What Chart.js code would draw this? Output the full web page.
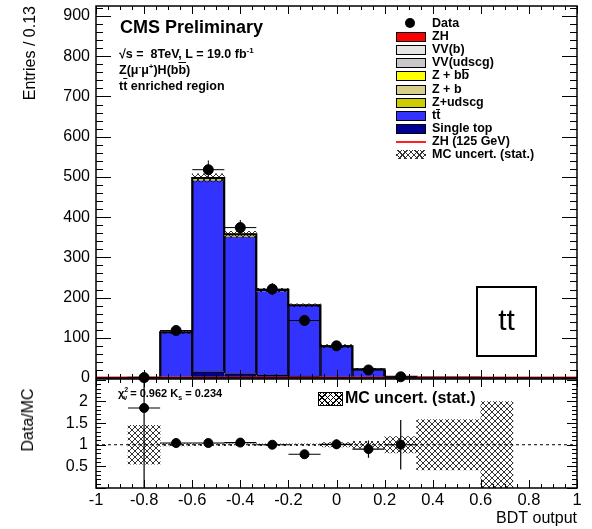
<!DOCTYPE html>
<html lang="en">
<head>
<meta charset="UTF-8">
<title>BDT output - tt enriched region</title>
<script src="https://cdn.jsdelivr.net/npm/chart.js@4.4.0/dist/chart.umd.min.js"></script>
<style>
  * { margin: 0; padding: 0; }
  body {
    width: 592px; height: 529px; position: relative; overflow: hidden;
    background: #fff; color: #000;
    font-family: "Liberation Sans", Arial, sans-serif;
  }
  .box { position: absolute; left: 0; width: 592px; }
  #mainBox { top: 0; height: 384px; }
  #ratioBox { top: 370px; height: 159px; }
  .txt { position: absolute; white-space: nowrap; font-weight: bold; line-height: 1; z-index: 5; }
  .ov { text-decoration: overline; }
  .ovb { display: inline-block; border-top: 1px solid #000; line-height: 10px; }
  #legend { position: absolute; left: 396px; top: 18px; z-index: 5; }
  .row { position: absolute; left: 0; height: 12px; white-space: nowrap; }
  .sw { position: absolute; left: 0; top: 1px; width: 28px; height: 8px; border: 1px solid #000; }
  .lab { position: absolute; left: 36px; top: -1px; font-weight: bold; font-size: 12.5px; line-height: 13px; }
  .hatch {
    background:
      repeating-linear-gradient(45deg, transparent 0 3px, #000 3px 4px),
      repeating-linear-gradient(-45deg, transparent 0 3px, #000 3px 4px);
  }
  #ttBox {
    position: absolute; left: 476px; top: 286px; width: 57px; height: 67px;
    border: 2px solid #000; font-size: 30px; text-align: center; line-height: 64px; z-index: 5;
  }
  #dataMC { position: absolute; left: 28px; top: 420px; font-size: 16px; transform: translate(-50%, -50%) rotate(-90deg); white-space: nowrap; z-index: 5; }
</style>
</head>
<body>
<div class="box" id="mainBox"><canvas id="main" width="592" height="384"></canvas></div>
<div class="box" id="ratioBox"><canvas id="ratio" width="592" height="159"></canvas></div>

<div class="txt" style="left:120px; top:18px; font-size:18px;">CMS Preliminary</div>
<div class="txt" style="left:119px; top:47px; font-size:12.5px;">&radic;s = &nbsp;8TeV, L = 19.0 fb<sup style="font-size:8px">-1</sup></div>
<div class="txt" style="left:119px; top:63px; font-size:12.5px;">Z(&mu;<sup style="font-size:8px">-</sup>&mu;<sup style="font-size:8px">+</sup>)H(b<span class="ov">b</span>)</div>
<div class="txt" style="left:119px; top:80px; font-size:12.5px;">t<span class="ov">t</span> enriched region</div>
<div id="legend"></div>
<div id="ttBox">tt</div>

<div class="txt" style="left:118px; top:386px; font-size:11px;">&chi;<sup style="font-size:7px">2</sup><sub style="font-size:7px; margin-left:-5px">&nu;</sub> = 0.962 K<sub style="font-size:7px">s</sub> = 0.234</div>
<div class="sw hatch" style="left:318px; top:392px; width:23px; height:12px; z-index:5;"></div>
<div class="txt" style="left:345px; top:390px; font-size:16px;">MC uncert. (stat.)</div>
<div id="dataMC">Data/MC</div>

<script>
  // 15 bins from -1 to 1 (width 0.133)
  const binLabels = ['-0.933', '-0.8', '-0.667', '-0.533', '-0.4', '-0.267', '-0.133', '0',
                     '0.133', '0.267', '0.4', '0.533', '0.667', '0.8', '0.933'];
  const xMin = -1, xMax = 1;

  // MC stack, bottom to top
  const singleTop = [0, 0.05, 3, 16, 11, 7, 5, 2, 0.5, 0.2, 0, 0, 0, 0, 0];
  const ttbar     = [0, 0.4, 109, 475, 340, 209, 174, 76, 21, 2.5, 1, 1, 0.3, 0, 0];
  const zUdscg    = [0, 0.05, 1, 3, 3, 1, 1, 0.5, 0.2, 0.1, 0, 0, 0, 0, 0];
  const zB        = [0, 0, 0.3, 1, 1, 0.5, 0.3, 0.2, 0.1, 0, 0, 0, 0, 0, 0];
  const zBB       = [0, 0.05, 0.5, 2, 2, 1, 0.5, 0.3, 0.2, 0.1, 0, 0, 0, 0, 0];
  const vvUdscg   = [0, 0, 0.1, 0.3, 0.3, 0.2, 0.1, 0.1, 0, 0, 0, 0, 0, 0, 0];
  const vvB       = [0, 0, 0.1, 0.2, 0.2, 0.1, 0.1, 0, 0, 0, 0, 0, 0, 0, 0];
  const zh        = [0, 0, 0, 0.1, 0.1, 0.1, 0.1, 0.1, 0, 0, 0, 0, 0, 0, 0];
  const zh125     = [2, 2, 2, 2, 2, 2, 2, 2, 2, 2, 2, 2, 2, 2, 2];
  // relative MC stat. uncertainty per bin
  const mcRelErr  = [0, 0.45, 0.025, 0.02, 0.02, 0.02, 0.02, 0.05, 0.08, 0.19, 0.58, 0.58, 1.0, 0, 0];

  // data
  const dataX   = [-0.8, -0.667, -0.533, -0.4, -0.267, -0.133, 0, 0.133, 0.267];
  const dataY   = [1, 118, 518, 374, 221, 143, 80, 20, 3];
  const dataErr = [1, 11, 23, 19, 15, 12, 9, 4.5, 1.7];
  const ratioY   = [1.85, 1.04, 1.04, 1.05, 1.0, 0.78, 1.01, 0.9, 1.0];
  const ratioErr = [1.85, 0.1, 0.05, 0.05, 0.07, 0.07, 0.11, 0.2, 0.57];
  const halfBin = 0.0667;

  const mainYTicks = [0, 100, 200, 300, 400, 500, 600, 700, 800, 900];
  const ratioYTicks = [0.5, 1, 1.5, 2];
  const ratioYLabels = ['0.5', '1', '1.5', '2'];
  const xTicks = [-1, -0.8, -0.6, -0.4, -0.2, 0, 0.2, 0.4, 0.6, 0.8, 1];
  const xTickLabels = ['-1', '-0.8', '-0.6', '-0.4', '-0.2', '0', '0.2', '0.4', '0.6', '0.8', '1'];

  const colors = {
    zh: '#ff0000', vvB: '#e6e6e6', vvUdscg: '#c8c8c8', zBB: '#ffff00', zB: '#d8d08a',
    zUdscg: '#cccc00', ttbar: '#3333ff', singleTop: '#000099'
  };

  Chart.defaults.font.family = "'Liberation Sans', Arial, sans-serif";
  Chart.defaults.color = '#000';

  function hatchPattern() {
    const c = document.createElement('canvas');
    c.width = 6; c.height = 6;
    const g = c.getContext('2d');
    g.strokeStyle = '#000';
    g.lineWidth = 0.8;
    g.beginPath();
    g.moveTo(-1, -1); g.lineTo(7, 7);
    g.moveTo(7, -1); g.lineTo(-1, 7);
    g.stroke();
    return g.createPattern(c, 'repeat');
  }
  const hatch = hatchPattern();

  const binW = (xMax - xMin) / binLabels.length;
  const edges = binLabels.map((_, i) => xMin + i * binW).concat([xMax]);
  const stack = [singleTop, ttbar, zUdscg, zB, zBB, vvUdscg, vvB, zh];
  const total = binLabels.map((_, i) => stack.reduce((s, a) => s + a[i], 0));

  // step outline of a per-bin array on the linear axis
  function steps(vals) {
    const pts = [];
    vals.forEach((v, i) => { pts.push({x: edges[i], y: v}, {x: edges[i + 1], y: v}); });
    return pts;
  }
  // error bars as one broken line: gaps are points with y = null
  function errBars(xs, ys, es, clampLow) {
    const pts = [];
    xs.forEach((x, i) => {
      pts.push({x: x - halfBin, y: ys[i]}, {x: x + halfBin, y: ys[i]}, {x: x + halfBin, y: null});
      pts.push({x: x, y: Math.max(ys[i] - es[i], clampLow)}, {x: x, y: ys[i] + es[i]}, {x: x, y: null});
    });
    return pts;
  }

  // inward ticks on all four sides + frame
  const ticksFrame = {
    id: 'ticksFrame',
    afterDraw(chart, args, o) {
      const {ctx, chartArea: a} = chart;
      const xs = chart.scales.xl, ys = chart.scales.y;
      ctx.save();
      ctx.strokeStyle = '#000';
      ctx.lineWidth = 1;
      ctx.beginPath();
      const nx = Math.round((xs.max - xs.min) / o.xMinor);
      for (let i = 0; i <= nx; i++) {
        const px = Math.round(xs.getPixelForValue(xs.min + i * o.xMinor)) + 0.5;
        const len = i % o.xEvery === 0 ? o.xMajorLen : o.xMinorLen;
        ctx.moveTo(px, a.bottom); ctx.lineTo(px, a.bottom - len);
        ctx.moveTo(px, a.top); ctx.lineTo(px, a.top + len);
      }
      const ny = Math.floor((ys.max - ys.min) / o.yMinor + 1e-6);
      for (let i = 0; i <= ny; i++) {
        const py = Math.round(ys.getPixelForValue(ys.min + i * o.yMinor)) + 0.5;
        const len = i % o.yEvery === 0 ? o.yMajorLen : o.yMinorLen;
        ctx.moveTo(a.left, py); ctx.lineTo(a.left + len, py);
        ctx.moveTo(a.right, py); ctx.lineTo(a.right - len, py);
      }
      ctx.stroke();
      ctx.lineWidth = 1.5;
      ctx.strokeRect(a.left, a.top, a.right - a.left, a.bottom - a.top);
      ctx.restore();
    }
  };

  function noPad(s) { s.paddingTop = 0; s.paddingBottom = 0; s.paddingLeft = 0; s.paddingRight = 0; }
  const noGrid = {display: false, drawTicks: false};

  // every bar takes the full bin width (no side-by-side grouping)
  const barBase = {type: 'bar', xAxisID: 'x', yAxisID: 'y', order: 10, grouped: false,
                   barPercentage: 1, categoryPercentage: 1, borderSkipped: false};

  // ---------- main panel ----------
  new Chart(document.getElementById('main'), {
    type: 'bar',
    data: {
      labels: binLabels,
      datasets: [
        {type: 'scatter', label: 'Data', xAxisID: 'xl', yAxisID: 'yu', order: 0, clip: false,
         data: dataX.map((x, i) => ({x: x, y: dataY[i]})),
         pointRadius: 5, pointBackgroundColor: '#000', pointBorderColor: '#000'},
        {type: 'line', label: 'err', xAxisID: 'xl', yAxisID: 'yu', order: 1, clip: false,
         data: errBars(dataX, dataY, dataErr, 0), borderColor: '#000', borderWidth: 1, pointRadius: 0, spanGaps: false},
        {type: 'line', label: 'ZH (125 GeV)', xAxisID: 'xl', yAxisID: 'yu', order: 2,
         data: steps(zh125), borderColor: '#ff2020', borderWidth: 1.2, pointRadius: 0},
        {type: 'line', label: 'outline', xAxisID: 'xl', yAxisID: 'yu', order: 3,
         data: steps(total), borderColor: '#000', borderWidth: 2, pointRadius: 0},
        Object.assign({}, barBase, {label: 'MC uncert. (stat.)', yAxisID: 'yu', order: 4,
         data: total.map((t, i) => t > 0 && mcRelErr[i] > 0 ? [t * (1 - mcRelErr[i]), t * (1 + mcRelErr[i])] : null),
         backgroundColor: hatch, borderWidth: 0}),
        Object.assign({}, barBase, {label: 'Single top', data: singleTop, backgroundColor: colors.singleTop,
          borderColor: '#000', borderWidth: {top: 1.5, left: 0, right: 0, bottom: 0}}),
        Object.assign({}, barBase, {label: 'tt', data: ttbar, backgroundColor: colors.ttbar,
          borderColor: '#000', borderWidth: {top: 0, left: 1.5, right: 1.5, bottom: 0}}),
        Object.assign({}, barBase, {label: 'Z+udscg', data: zUdscg, backgroundColor: colors.zUdscg}),
        Object.assign({}, barBase, {label: 'Z + b', data: zB, backgroundColor: colors.zB}),
        Object.assign({}, barBase, {label: 'Z + bb', data: zBB, backgroundColor: colors.zBB}),
        Object.assign({}, barBase, {label: 'VV(udscg)', data: vvUdscg, backgroundColor: colors.vvUdscg}),
        Object.assign({}, barBase, {label: 'VV(b)', data: vvB, backgroundColor: colors.vvB}),
        Object.assign({}, barBase, {label: 'ZH', data: zh, backgroundColor: colors.zh})
      ]
    },
    options: {
      responsive: false,
      animation: false,
      layout: {padding: {top: 5, right: 15, bottom: 5, left: 0}},
      plugins: {
        legend: {display: false},
        tooltip: {enabled: false},
        ticksFrame: {xMinor: 0.05, xEvery: 4, xMajorLen: 8, xMinorLen: 4, yMinor: 20, yEvery: 5, yMajorLen: 15, yMinorLen: 7}
      },
      scales: {
        x: {type: 'category', stacked: true, display: false, offset: true},
        xl: {type: 'linear', min: xMin, max: xMax, display: false, offset: false},
        y: {
          stacked: true, min: 0, max: 925, position: 'left',
          afterFit: s => { s.width = 96; noPad(s); },
          afterBuildTicks: s => { s.ticks = mainYTicks.map(v => ({value: v})); },
          ticks: {font: {size: 16}, color: '#000', padding: 6},
          grid: noGrid, border: {display: false},
          title: {display: true, text: 'Entries / 0.13', align: 'end', font: {size: 16}, color: '#000', padding: {top: 21, bottom: 0}}
        },
        yu: {min: 0, max: 925, display: false}
      }
    },
    plugins: [ticksFrame]
  });

  // ---------- ratio panel ----------
  new Chart(document.getElementById('ratio'), {
    type: 'bar',
    data: {
      labels: binLabels,
      datasets: [
        {type: 'scatter', label: 'Data/MC', xAxisID: 'xl', yAxisID: 'y', order: 0,
         data: dataX.map((x, i) => ({x: x, y: ratioY[i]})),
         pointRadius: 4.5, pointBackgroundColor: '#000', pointBorderColor: '#000'},
        {type: 'line', label: 'err', xAxisID: 'xl', yAxisID: 'y', order: 1,
         data: errBars(dataX, ratioY, ratioErr, 0), borderColor: '#000', borderWidth: 1.2, pointRadius: 0, spanGaps: false},
        {type: 'line', label: 'one', xAxisID: 'xl', yAxisID: 'y', order: 2,
         data: [{x: xMin, y: 1}, {x: xMax, y: 1}], borderColor: '#000', borderWidth: 1, borderDash: [3, 3], pointRadius: 0},
        Object.assign({}, barBase, {label: 'MC uncert. (stat.)', order: 3,
         data: mcRelErr.map(e => e > 0 ? [1 - e, 1 + e] : null),
         backgroundColor: hatch, borderWidth: 0})
      ]
    },
    options: {
      responsive: false,
      animation: false,
      layout: {padding: {top: 9, right: 15, bottom: 0, left: 0}},
      plugins: {
        legend: {display: false},
        tooltip: {enabled: false},
        ticksFrame: {xMinor: 0.05, xEvery: 4, xMajorLen: 8, xMinorLen: 4, yMinor: 0.1, yEvery: 5, yMajorLen: 10, yMinorLen: 5}
      },
      scales: {
        x: {type: 'category', display: false, offset: true},
        xl: {
          type: 'linear', position: 'bottom', min: xMin, max: xMax, offset: false,
          afterFit: s => { s.height = 41; noPad(s); },
          afterBuildTicks: s => { s.ticks = xTicks.map(v => ({value: v})); },
          ticks: {font: {size: 16.5}, color: '#000', padding: 3, maxRotation: 0, autoSkip: false,
                  callback: (v, i) => xTickLabels[i]},
          grid: noGrid, border: {display: false},
          title: {display: true, text: 'BDT output', align: 'end', font: {size: 16}, color: '#000', padding: {top: 0, bottom: 1}}
        },
        y: {
          min: 0, max: 2.52,
          afterFit: s => { s.width = 96; noPad(s); },
          afterBuildTicks: s => { s.ticks = ratioYTicks.map(v => ({value: v})); },
          ticks: {font: {size: 16}, color: '#000', padding: 8, callback: (v, i) => ratioYLabels[i]},
          grid: noGrid, border: {display: false}
        }
      }
    },
    plugins: [ticksFrame]
  });

  // ---------- legend (HTML) ----------
  const legendItems = [
    {label: 'Data', kind: 'marker'},
    {label: 'ZH', color: colors.zh},
    {label: 'VV(b)', color: colors.vvB},
    {label: 'VV(udscg)', color: colors.vvUdscg},
    {label: 'Z + b<span class="ovb">b</span>', color: colors.zBB},
    {label: 'Z + b', color: colors.zB},
    {label: 'Z+udscg', color: colors.zUdscg},
    {label: 't<span class="ovb">t</span>', color: colors.ttbar},
    {label: 'Single top', color: colors.singleTop},
    {label: 'ZH (125 GeV)', kind: 'line'},
    {label: 'MC uncert. (stat.)', kind: 'hatch'}
  ];
  const legend = document.getElementById('legend');
  legendItems.forEach((it, i) => {
    const row = document.createElement('div');
    row.className = 'row';
    row.style.top = (i * 13.1) + 'px';
    let sw;
    if (it.kind === 'marker') {
      sw = '<div style="position:absolute;left:9px;top:0;width:10px;height:10px;border-radius:50%;background:#000"></div>';
    } else if (it.kind === 'line') {
      sw = '<div style="position:absolute;left:0;top:5px;width:30px;height:2px;background:#ff2020"></div>';
    } else if (it.kind === 'hatch') {
      sw = '<div class="hatch" style="position:absolute;left:0;top:1px;width:30px;height:9px;opacity:0.8"></div>';
    } else {
      sw = '<div class="sw" style="background:' + it.color + '"></div>';
    }
    row.innerHTML = sw + '<div class="lab">' + it.label + '</div>';
    legend.appendChild(row);
  });
</script>
</body>
</html>
